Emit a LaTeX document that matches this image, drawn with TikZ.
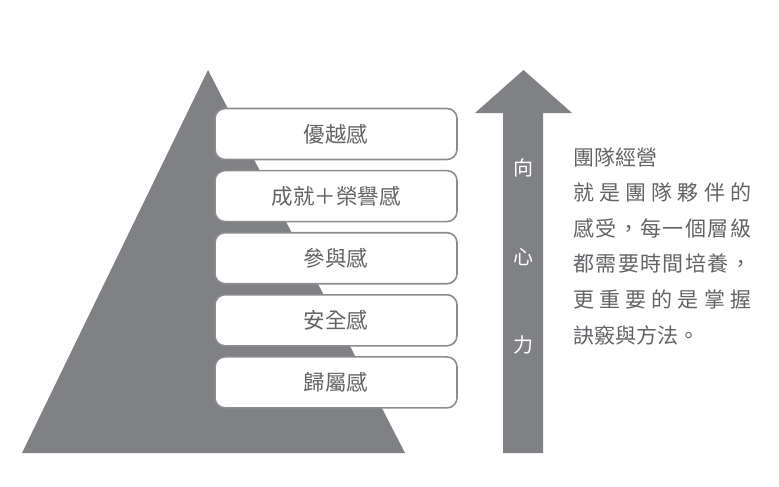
\documentclass[tikz,border=0pt]{standalone}
\usepackage{fontspec}
\setmainfont{Noto Sans CJK TC}
\usetikzlibrary{positioning}
\definecolor{pyrgray}{HTML}{808184}
\definecolor{txtgray}{HTML}{626366}
\definecolor{boxgray}{HTML}{8C8C8E}
\newcommand{\spreadline}[1]{\makebox[178pt][s]{#1}}

\begin{document}
\begin{tikzpicture}[x=1pt,y=-1pt,node distance=9.5pt,
        tier/.style={draw=boxgray,line width=1.6pt,fill=white,rounded corners=10pt,minimum width=242pt,
        minimum height=51pt,inner sep=0pt,text=txtgray,font=\fontsize{21.5}{21.5}\selectfont},
        force/.style={text=white,inner sep=0pt,font=\fontsize{20}{20}\selectfont},
        note/.style={text=txtgray,anchor=base west,inner sep=0pt,font=\fontsize{21}{21}\selectfont}]
        \useasboundingbox (0,0) rectangle (779,487);
        % pyramid and arrow
        \fill[pyrgray] (208,70) -- (405,453) -- (22,453) -- cycle;
        \fill[pyrgray] (503,453) -- (503,113) -- (475,113) -- (523.5,70) -- (572,113) -- (543,113) -- (543,453) -- cycle;
        \node[tier] (t_1) at (336,134) {優越感};
        \node[tier] (t_2) [below=of t_1] {成就＋榮譽感};
        \node[tier] (t_3) [below=of t_2] {參與感};
        \node[tier] (t_4) [below=of t_3] {安全感};
        \node[tier] (t_5) [below=of t_4] {歸屬感};
        \node[force] (f_1) at (523,168) {向};
        \node[force] (f_2) at (523,257) {心};
        \node[force] (f_3) at (523,345) {力};
        % text on the right
        \node[note] (n_1) at (573,165) {團隊經營};
        \node[note] (n_2) at (573,200.5) {\spreadline{就\hfill 是\hfill 團\hfill 隊\hfill 夥\hfill 伴\hfill 的}};
        \node[note] (n_3) at (573,236) {\spreadline{感\hfill 受\hfill ，\hfill 每\hfill 一\hfill 個\hfill 層\hfill 級}};
        \node[note] (n_4) at (573,271.5) {\spreadline{都\hfill 需\hfill 要\hfill 時\hfill 間\hfill 培\hfill 養\hfill ，}};
        \node[note] (n_5) at (573,307) {\spreadline{更\hfill 重\hfill 要\hfill 的\hfill 是\hfill 掌\hfill 握}};
        \node[note] (n_6) at (573,343) {訣竅與方法。};
    \end{tikzpicture}
\end{document}
